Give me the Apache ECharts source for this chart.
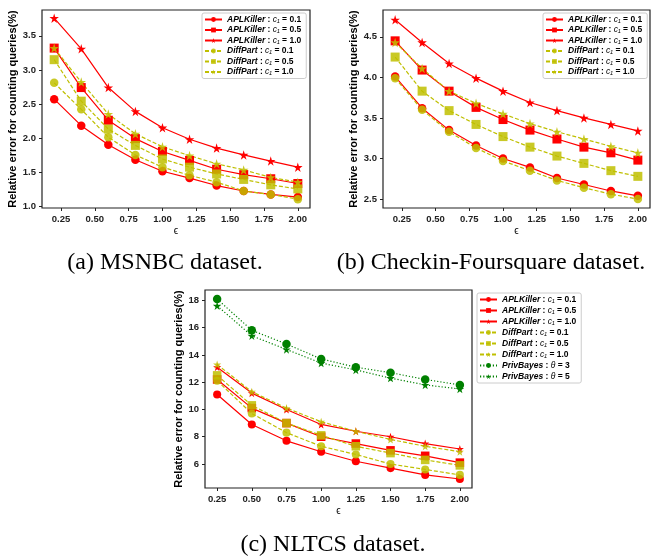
<!DOCTYPE html>
<html>
<head>
<meta charset="utf-8">
<script src="https://cdn.jsdelivr.net/npm/echarts@6/dist/echarts.min.js"></script>
<style>
  html, body { margin: 0; padding: 0; background: #fff; }
  #main { width: 662px; height: 560px; }
</style>
</head>
<body>
<div id="main"></div>
<script>
// epsilon values
const epsAB = [0.2, 0.4, 0.6, 0.8, 1.0, 1.2, 1.4, 1.6, 1.8, 2.0]
const epsC = [0.25, 0.5, 0.75, 1.0, 1.25, 1.5, 1.75, 2.0]
const xTicksAB = [0.25, 0.5, 0.75, 1.0, 1.25, 1.5, 1.75, 2.0]
const xTicksC = [0.25, 0.5, 0.75, 1.0, 1.25, 1.5, 1.75, 2.0]
const yTicksA = [1.0, 1.5, 2.0, 2.5, 3.0, 3.5]
const yTicksB = [2.5, 3.0, 3.5, 4.0, 4.5]
const yTicksC = [6, 8, 10, 12, 14, 16, 18]

const seriesNames = [
  'APLKiller : c₁ = 0.1', 'APLKiller : c₁ = 0.5', 'APLKiller : c₁ = 1.0',
  'DiffPart : c₁ = 0.1', 'DiffPart : c₁ = 0.5', 'DiffPart : c₁ = 1.0',
  'PrivBayes : θ = 3', 'PrivBayes : θ = 5'
]

// (a) MSNBC
const msnbcApl01 = [2.57, 2.18, 1.90, 1.68, 1.51, 1.41, 1.30, 1.22, 1.17, 1.13]
const msnbcApl05 = [3.32, 2.74, 2.26, 1.99, 1.80, 1.67, 1.54, 1.46, 1.40, 1.33]
const msnbcApl10 = [3.76, 3.31, 2.74, 2.39, 2.15, 1.98, 1.85, 1.75, 1.66, 1.57]
const msnbcDiff01 = [2.81, 2.42, 2.01, 1.75, 1.57, 1.45, 1.35, 1.22, 1.17, 1.10]
const msnbcDiff05 = [3.15, 2.54, 2.13, 1.89, 1.69, 1.57, 1.47, 1.39, 1.31, 1.25]
const msnbcDiff10 = [3.32, 2.82, 2.35, 2.06, 1.87, 1.74, 1.62, 1.53, 1.42, 1.35]

// (b) Checkin-Foursquare
const checkinApl01 = [4.01, 3.62, 3.35, 3.16, 3.00, 2.89, 2.76, 2.68, 2.60, 2.54]
const checkinApl05 = [4.45, 4.09, 3.83, 3.63, 3.48, 3.35, 3.24, 3.14, 3.07, 2.98]
const checkinApl10 = [4.71, 4.43, 4.17, 3.99, 3.83, 3.69, 3.59, 3.50, 3.42, 3.34]
const checkinDiff01 = [3.99, 3.60, 3.33, 3.13, 2.97, 2.85, 2.73, 2.64, 2.56, 2.50]
const checkinDiff05 = [4.25, 3.83, 3.59, 3.42, 3.27, 3.14, 3.03, 2.94, 2.85, 2.78]
const checkinDiff10 = [4.43, 4.11, 3.83, 3.68, 3.55, 3.43, 3.33, 3.24, 3.15, 3.07]

// (c) NLTCS
const nltcsApl01 = [11.1, 8.9, 7.7, 6.9, 6.2, 5.7, 5.2, 4.9]
const nltcsApl05 = [12.2, 10.1, 9.0, 8.0, 7.5, 7.0, 6.6, 6.1]
const nltcsApl10 = [13.1, 11.2, 10.0, 8.9, 8.4, 8.0, 7.5, 7.1]
const nltcsDiff01 = [12.1, 9.7, 8.3, 7.3, 6.7, 6.0, 5.6, 5.2]
const nltcsDiff05 = [12.5, 10.3, 9.0, 8.1, 7.3, 6.8, 6.3, 5.9]
const nltcsDiff10 = [13.3, 11.3, 10.1, 9.1, 8.4, 7.8, 7.3, 6.9]
const nltcsPriv3 = [18.1, 15.8, 14.8, 13.7, 13.1, 12.7, 12.2, 11.8]
const nltcsPriv5 = [17.6, 15.4, 14.4, 13.4, 12.9, 12.3, 11.8, 11.5]

const captions = ['(a) MSNBC dataset.', '(b) Checkin-Foursquare dataset.', '(c) NLTCS dataset.']

const RED = '#ff0000'
const YEL = '#bfbf00'
const GRN = '#008000'
const STAR = 'path://M50,0 L61,35 L98,35 L68,57 L79,91 L50,70 L21,91 L32,57 L2,35 L39,35 Z'
const SANS = '"Liberation Sans", Arial, sans-serif'
const SERIF = '"Liberation Serif", "Times New Roman", serif'

// style per series name index
const styles = [
  { color: RED, symbol: 'circle', size: 8.5, dash: 'solid' },
  { color: RED, symbol: 'rect', size: 9, dash: 'solid' },
  { color: RED, symbol: STAR, size: 9.5, dash: 'solid' },
  { color: YEL, symbol: 'circle', size: 8.5, dash: [4, 2] },
  { color: YEL, symbol: 'rect', size: 9, dash: [4, 2] },
  { color: YEL, symbol: STAR, size: 9.5, dash: [4, 2] },
  { color: GRN, symbol: 'circle', size: 8.5, dash: [1.2, 2] },
  { color: GRN, symbol: STAR, size: 9.5, dash: [1.2, 2] }
]

function makeSeries(idx, gridIdx, xs, ys, scale) {
  const s = styles[idx]
  return {
    name: seriesNames[idx],
    type: 'line',
    xAxisIndex: gridIdx,
    yAxisIndex: gridIdx,
    data: xs.map((x, i) => [x, ys[i]]),
    symbol: s.symbol,
    symbolSize: s.size * scale,
    showSymbol: true,
    itemStyle: { color: s.color, opacity: s.color === YEL ? 0.85 : 1 },
    lineStyle: { color: s.color, width: 1.2, type: s.dash },
    animation: false
  }
}

function xAxisFor(gridIdx, min, max, ticks) {
  return {
    type: 'value',
    gridIndex: gridIdx,
    min: min,
    max: max,
    name: 'ϵ',
    nameLocation: 'middle',
    nameGap: 18,
    nameTextStyle: { fontSize: 10, color: '#000', fontFamily: SANS },
    axisLine: { show: false },
    splitLine: { show: false },
    axisTick: { show: true, customValues: ticks, length: 3, lineStyle: { color: '#222' } },
    axisLabel: {
      customValues: ticks, margin: 6, fontSize: 9.5, fontWeight: 'bold', color: '#222', fontFamily: SANS,
      formatter: v => v.toFixed(2)
    }
  }
}

function yAxisFor(gridIdx, min, max, ticks, digits, gap) {
  return {
    type: 'value',
    gridIndex: gridIdx,
    min: min,
    max: max,
    name: 'Relative error for counting queries(%)',
    nameLocation: 'middle',
    nameGap: gap,
    nameTextStyle: { fontSize: 11, fontWeight: 'bold', color: '#000', fontFamily: SANS },
    axisLine: { show: false },
    splitLine: { show: false },
    axisTick: { show: true, customValues: ticks, length: 3, lineStyle: { color: '#222' } },
    axisLabel: {
      customValues: ticks, margin: 6, fontSize: 9.5, fontWeight: 'bold', color: '#222', fontFamily: SANS,
      formatter: v => v.toFixed(digits)
    }
  }
}

const rich = {
  m: { fontSize: 8.5, fontWeight: 'bold', fontStyle: 'italic', fontFamily: SANS, color: '#000', lineHeight: 10 },
  n: { fontSize: 8.5, fontWeight: 'bold', fontFamily: SANS, color: '#000', lineHeight: 10 },
  i: { fontSize: 8.5, fontStyle: 'italic', fontFamily: SANS, color: '#000', lineHeight: 10 }
}

function legendFor(left, top, names, gap) {
  return {
    orient: 'vertical',
    left: left,
    top: top,
    data: names,
    itemWidth: 17,
    itemHeight: 6,
    itemGap: gap,
    padding: [2, 5, 2, 2],
    backgroundColor: '#fff',
    borderColor: '#cccccc',
    borderWidth: 1,
    borderRadius: 2,
    selectedMode: false,
    textStyle: { rich: rich },
    formatter: name => {
      const parts = name.split(' : ')
      const rest = parts[1].split(' = ')
      return '{m|' + parts[0] + '}{n| : }{i|' + rest[0] + '}{n| = ' + rest[1] + '}'
    }
  }
}

function captionText(i, x, y) {
  return {
    type: 'text', x: x, y: y,
    style: { text: captions[i], fontSize: 24, fontFamily: SERIF, fill: '#000', align: 'center', verticalAlign: 'middle' }
  }
}

const option = {
  backgroundColor: '#fff',
  animation: false,
  grid: [
    { left: 42, top: 10, width: 268, height: 198, show: true, borderColor: '#222', borderWidth: 1.2, backgroundColor: 'transparent' },
    { left: 383, top: 10, width: 267, height: 198, show: true, borderColor: '#222', borderWidth: 1.2, backgroundColor: 'transparent' },
    { left: 205, top: 290, width: 267, height: 198, show: true, borderColor: '#222', borderWidth: 1.2, backgroundColor: 'transparent' }
  ],
  xAxis: [
    xAxisFor(0, 0.11, 2.09, xTicksAB),
    xAxisFor(1, 0.11, 2.09, xTicksAB),
    xAxisFor(2, 0.1625, 2.0875, xTicksC)
  ],
  yAxis: [
    yAxisFor(0, 0.97, 3.88, yTicksA, 1, 22),
    yAxisFor(1, 2.39, 4.83, yTicksB, 1, 21),
    yAxisFor(2, 4.24, 18.76, yTicksC, 0, 18)
  ],
  legend: [
    legendFor(202, 13, seriesNames.slice(0, 6), 1.5),
    legendFor(543, 13, seriesNames.slice(0, 6), 1.5),
    legendFor(477, 293, seriesNames, 2)
  ],
  series: [
    makeSeries(0, 0, epsAB, msnbcApl01, 1),
    makeSeries(1, 0, epsAB, msnbcApl05, 1),
    makeSeries(2, 0, epsAB, msnbcApl10, 1),
    makeSeries(3, 0, epsAB, msnbcDiff01, 1),
    makeSeries(4, 0, epsAB, msnbcDiff05, 1),
    makeSeries(5, 0, epsAB, msnbcDiff10, 1),

    makeSeries(0, 1, epsAB, checkinApl01, 1),
    makeSeries(1, 1, epsAB, checkinApl05, 1),
    makeSeries(2, 1, epsAB, checkinApl10, 1),
    makeSeries(3, 1, epsAB, checkinDiff01, 1),
    makeSeries(4, 1, epsAB, checkinDiff05, 1),
    makeSeries(5, 1, epsAB, checkinDiff10, 1),

    makeSeries(0, 2, epsC, nltcsApl01, 0.95),
    makeSeries(1, 2, epsC, nltcsApl05, 0.95),
    makeSeries(2, 2, epsC, nltcsApl10, 0.85),
    makeSeries(3, 2, epsC, nltcsDiff01, 0.95),
    makeSeries(4, 2, epsC, nltcsDiff05, 0.95),
    makeSeries(5, 2, epsC, nltcsDiff10, 0.85),
    makeSeries(6, 2, epsC, nltcsPriv3, 1),
    makeSeries(7, 2, epsC, nltcsPriv5, 0.9)
  ],
  graphic: [
    captionText(0, 165, 263),
    captionText(1, 491, 263),
    captionText(2, 333, 545)
  ]
}

const myChart = echarts.init(document.getElementById('main'))
myChart.setOption(option)
</script>
</body>
</html>
